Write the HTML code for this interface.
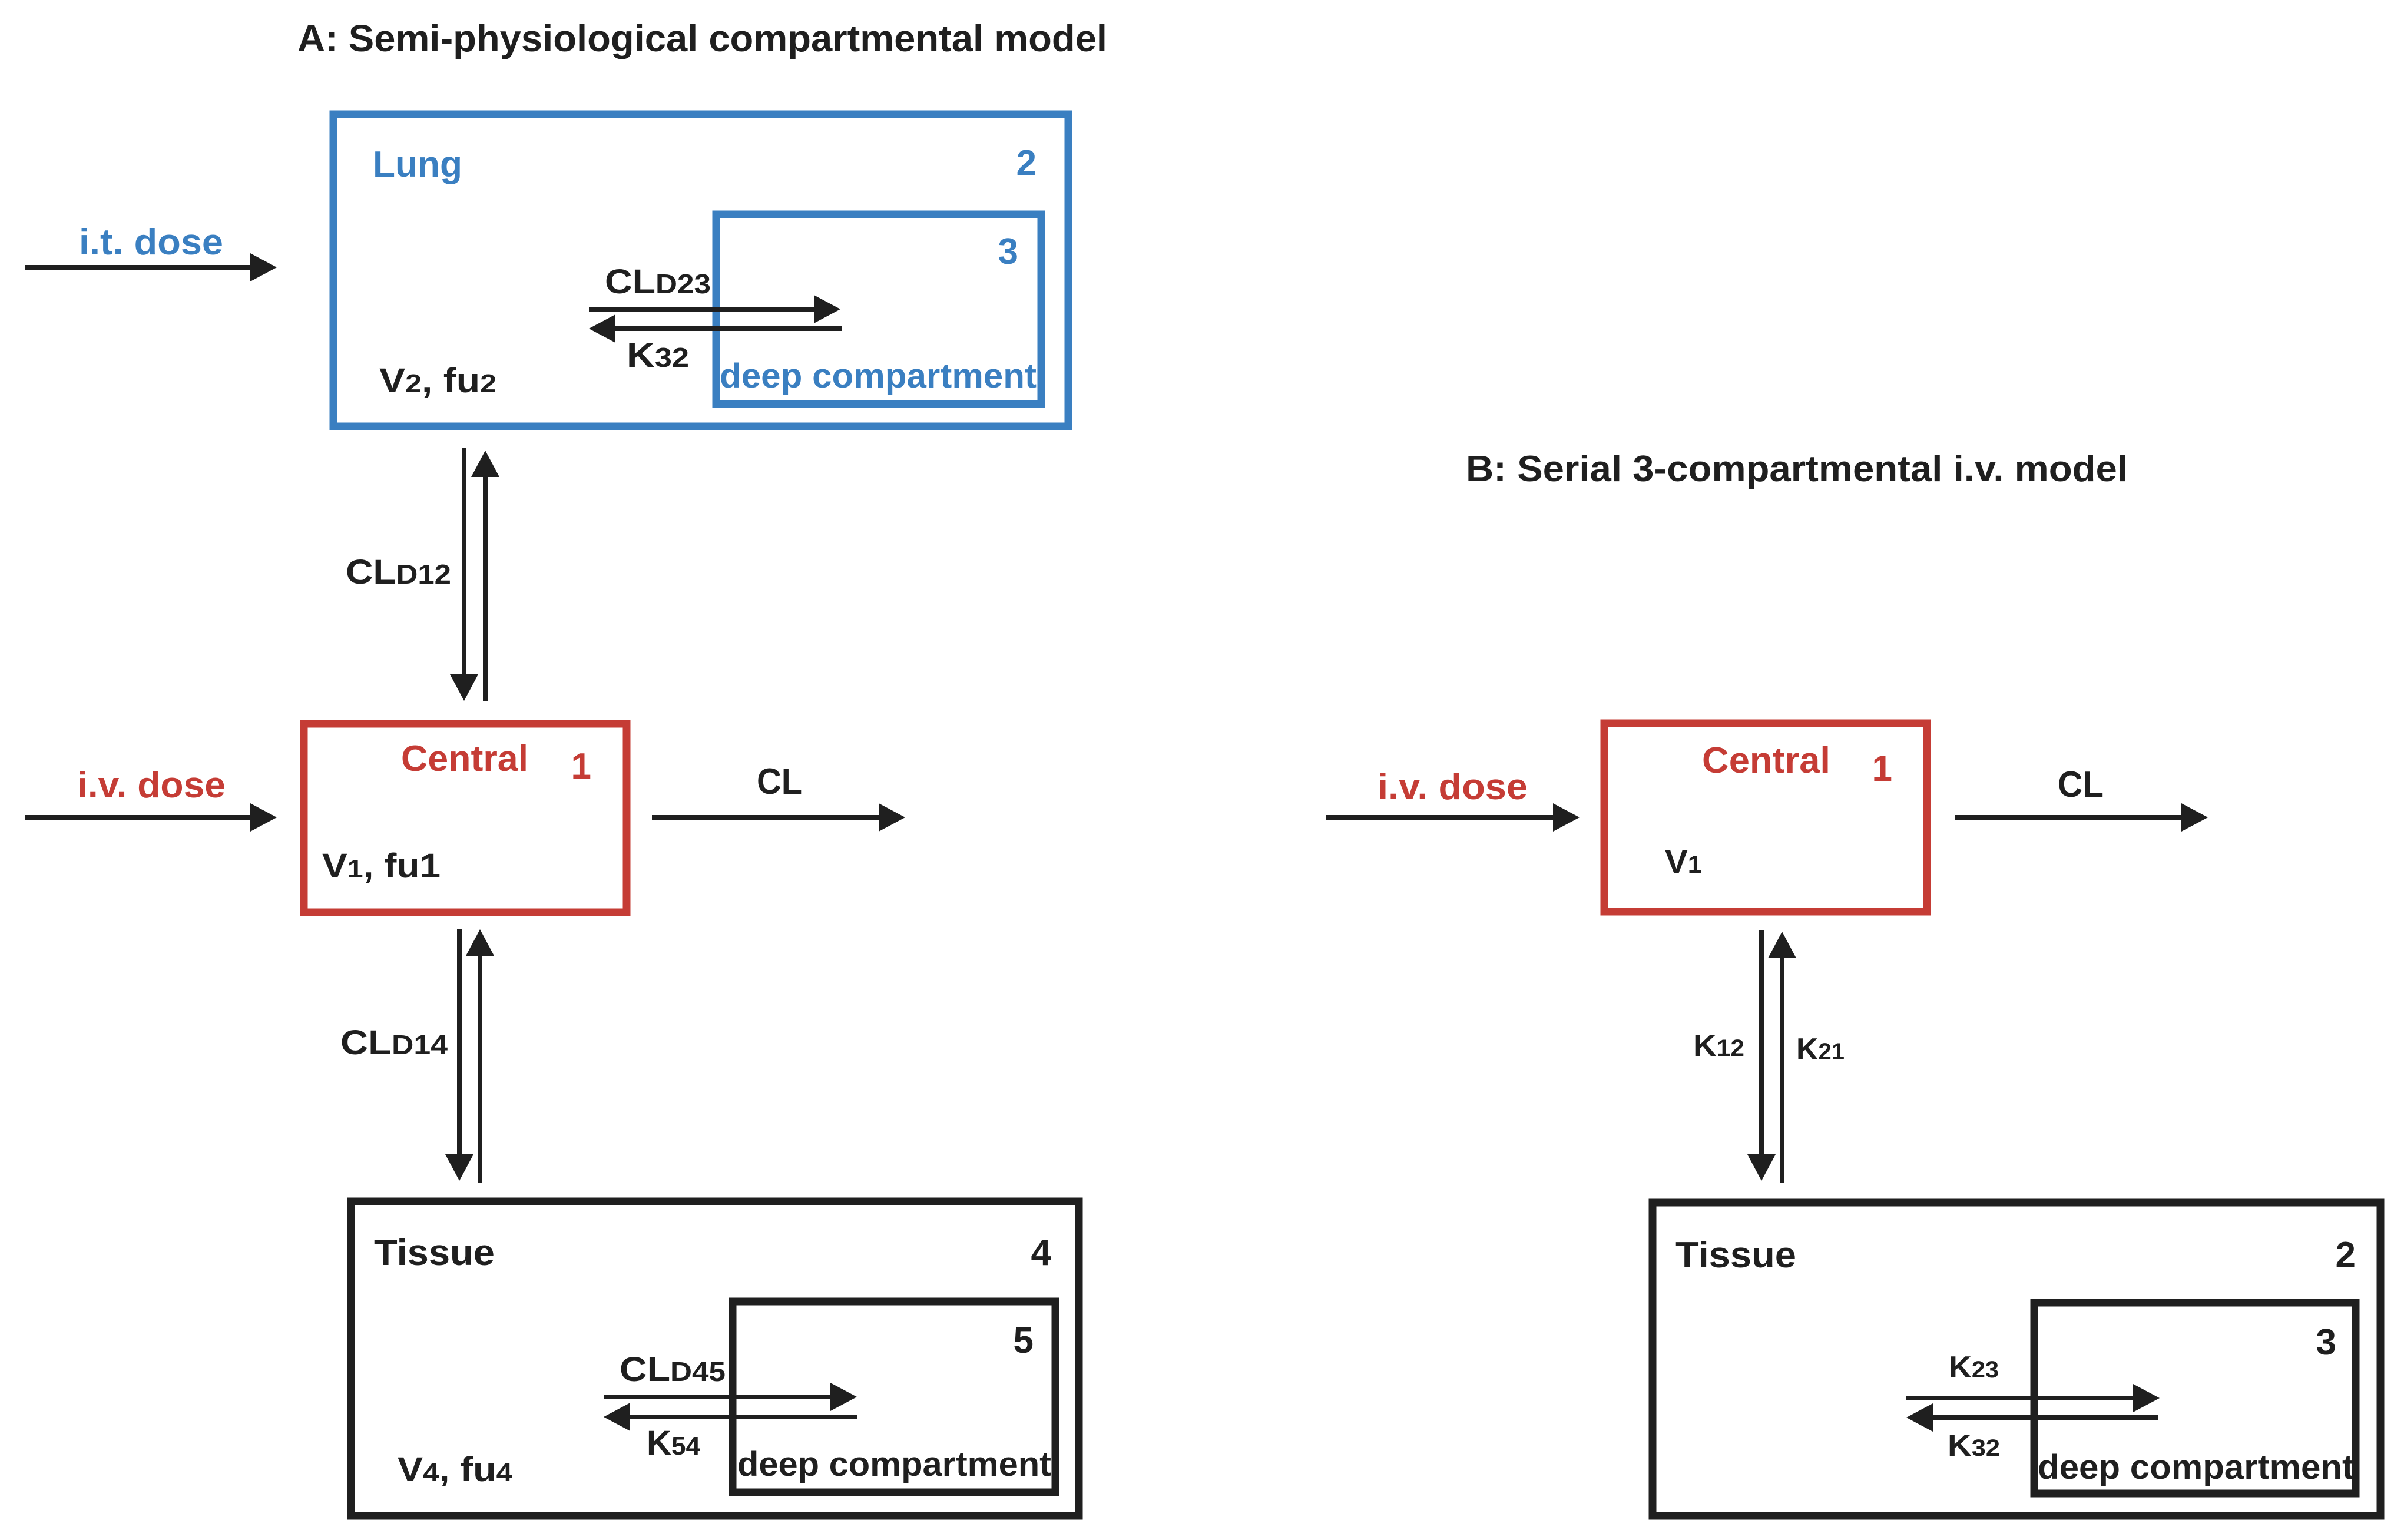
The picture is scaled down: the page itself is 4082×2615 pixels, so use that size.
<!DOCTYPE html>
<html><head><meta charset="utf-8"><style>
html,body{margin:0;padding:0;background:#fff;}
svg{display:block;}
text{font-family:"Liberation Sans",sans-serif;font-weight:bold;}
.b{fill:#3a7fc1}.r{fill:#c53c35}.k{fill:#1f1f1f}
</style></head><body>
<svg width="4082" height="2615" viewBox="0 0 4082 2615" xmlns="http://www.w3.org/2000/svg">
<g fill="none" stroke-width="13">
<rect x="566" y="194" width="1248" height="530" stroke="#3a7fc1"/>
<rect x="1216" y="364" width="552" height="322" stroke="#3a7fc1"/>
<rect x="516" y="1229" width="548" height="320" stroke="#c53c35"/>
<rect x="596" y="2040" width="1236" height="534" stroke="#1f1f1f"/>
<rect x="1244" y="2210" width="548" height="324" stroke="#1f1f1f"/>
<rect x="2724" y="1228" width="548" height="320" stroke="#c53c35"/>
<rect x="2806" y="2042" width="1236" height="532" stroke="#1f1f1f"/>
<rect x="3454" y="2212" width="546" height="324" stroke="#1f1f1f"/>
</g>
<g stroke="#1f1f1f" stroke-width="8" fill="none">
<!-- A arrows -->
<line x1="43" y1="454" x2="430" y2="454"/>
<line x1="1000" y1="525" x2="1390" y2="525"/>
<line x1="1040" y1="558" x2="1429" y2="558"/>
<line x1="788" y1="760" x2="788" y2="1150"/>
<line x1="824" y1="1190" x2="824" y2="805"/>
<line x1="43" y1="1388" x2="430" y2="1388"/>
<line x1="1107" y1="1388" x2="1497" y2="1388"/>
<line x1="780" y1="1578" x2="780" y2="1965"/>
<line x1="815" y1="2008" x2="815" y2="1620"/>
<line x1="1025" y1="2372" x2="1415" y2="2372"/>
<line x1="1065" y1="2406" x2="1456" y2="2406"/>
<!-- B arrows -->
<line x1="2251" y1="1388" x2="2642" y2="1388"/>
<line x1="3319" y1="1388" x2="3709" y2="1388"/>
<line x1="2991" y1="1580" x2="2991" y2="1965"/>
<line x1="3026" y1="2008" x2="3026" y2="1622"/>
<line x1="3237" y1="2374" x2="3627" y2="2374"/>
<line x1="3277" y1="2407" x2="3665" y2="2407"/>
</g>
<g fill="#1f1f1f">
<polygon points="425,430 470,454 425,478"/>
<polygon points="1382,501 1427,525 1382,549"/>
<polygon points="1045,534 1000,558 1045,582"/>
<polygon points="764,1145 788,1190 812,1145"/>
<polygon points="800,810 824,765 848,810"/>
<polygon points="425,1364 470,1388 425,1412"/>
<polygon points="1492,1364 1537,1388 1492,1412"/>
<polygon points="756,1960 780,2005 804,1960"/>
<polygon points="791,1623 815,1578 839,1623"/>
<polygon points="1410,2348 1455,2372 1410,2396"/>
<polygon points="1070,2382 1025,2406 1070,2430"/>
<polygon points="2637,1364 2682,1388 2637,1412"/>
<polygon points="3704,1364 3749,1388 3704,1412"/>
<polygon points="2967,1960 2991,2005 3015,1960"/>
<polygon points="3002,1627 3026,1582 3050,1627"/>
<polygon points="3622,2350 3667,2374 3622,2398"/>
<polygon points="3282,2383 3237,2407 3282,2431"/>
</g>
<!-- Panel A text -->
<text class="k" x="505" y="87" font-size="64" textLength="1375" lengthAdjust="spacingAndGlyphs">A: Semi-physiological compartmental model</text>
<text class="b" x="633" y="300" font-size="62" textLength="152" lengthAdjust="spacingAndGlyphs">Lung</text>
<text class="b" x="1760" y="298" font-size="62" text-anchor="end">2</text>
<text class="b" x="1729" y="448" font-size="62" text-anchor="end">3</text>
<text class="b" x="134" y="432" font-size="62" textLength="245" lengthAdjust="spacingAndGlyphs">i.t. dose</text>
<text class="k" x="1027" y="498" font-size="58" textLength="180" lengthAdjust="spacingAndGlyphs">CL<tspan font-size="46">D23</tspan></text>
<text class="k" x="1064" y="623" font-size="58" textLength="106" lengthAdjust="spacingAndGlyphs">K<tspan font-size="46">32</tspan></text>
<text class="b" x="1222" y="658" font-size="58" textLength="538" lengthAdjust="spacingAndGlyphs">deep compartment</text>
<text class="k" x="644" y="666" font-size="58" textLength="199" lengthAdjust="spacingAndGlyphs">V<tspan font-size="44">2</tspan>, fu<tspan font-size="44">2</tspan></text>
<text class="k" x="587" y="991" font-size="58" textLength="179" lengthAdjust="spacingAndGlyphs">CL<tspan font-size="46">D12</tspan></text>
<text class="r" x="681" y="1309" font-size="62" textLength="216" lengthAdjust="spacingAndGlyphs">Central</text>
<text class="r" x="1004" y="1322" font-size="62" text-anchor="end">1</text>
<text class="r" x="131" y="1354" font-size="62" textLength="252" lengthAdjust="spacingAndGlyphs">i.v. dose</text>
<text class="k" x="547" y="1490" font-size="58" textLength="201" lengthAdjust="spacingAndGlyphs">V<tspan font-size="44">1</tspan>, fu1</text>
<text class="k" x="1285" y="1348" font-size="62" textLength="77" lengthAdjust="spacingAndGlyphs">CL</text>
<text class="k" x="578" y="1790" font-size="58" textLength="182" lengthAdjust="spacingAndGlyphs">CL<tspan font-size="46">D14</tspan></text>
<text class="k" x="635" y="2148" font-size="62" textLength="205" lengthAdjust="spacingAndGlyphs">Tissue</text>
<text class="k" x="1785" y="2148" font-size="62" text-anchor="end">4</text>
<text class="k" x="1755" y="2297" font-size="62" text-anchor="end">5</text>
<text class="k" x="1052" y="2345" font-size="58" textLength="180" lengthAdjust="spacingAndGlyphs">CL<tspan font-size="46">D45</tspan></text>
<text class="k" x="1098" y="2470" font-size="58" textLength="91" lengthAdjust="spacingAndGlyphs">K<tspan font-size="44">54</tspan></text>
<text class="k" x="1252" y="2506" font-size="58" textLength="533" lengthAdjust="spacingAndGlyphs">deep compartment</text>
<text class="k" x="675" y="2515" font-size="58" textLength="195" lengthAdjust="spacingAndGlyphs">V<tspan font-size="44">4</tspan>, fu<tspan font-size="44">4</tspan></text>
<!-- Panel B text -->
<text class="k" x="2489" y="817" font-size="62" textLength="1124" lengthAdjust="spacingAndGlyphs">B: Serial 3-compartmental i.v. model</text>
<text class="r" x="2890" y="1312" font-size="62" textLength="218" lengthAdjust="spacingAndGlyphs">Central</text>
<text class="r" x="3213" y="1326" font-size="62" text-anchor="end">1</text>
<text class="r" x="2339" y="1357" font-size="62" textLength="255" lengthAdjust="spacingAndGlyphs">i.v. dose</text>
<text class="k" x="3494" y="1353" font-size="62" textLength="78" lengthAdjust="spacingAndGlyphs">CL</text>
<text class="k" x="2827" y="1482" font-size="56" textLength="63" lengthAdjust="spacingAndGlyphs">V<tspan font-size="42">1</tspan></text>
<text class="k" x="2875" y="1793" font-size="52" textLength="87" lengthAdjust="spacingAndGlyphs">K<tspan font-size="40">12</tspan></text>
<text class="k" x="3050" y="1799" font-size="52" textLength="82" lengthAdjust="spacingAndGlyphs">K<tspan font-size="40">21</tspan></text>
<text class="k" x="2845" y="2152" font-size="62" textLength="205" lengthAdjust="spacingAndGlyphs">Tissue</text>
<text class="k" x="4000" y="2152" font-size="62" text-anchor="end">2</text>
<text class="k" x="3967" y="2300" font-size="62" text-anchor="end">3</text>
<text class="k" x="3309" y="2339" font-size="52" textLength="85" lengthAdjust="spacingAndGlyphs">K<tspan font-size="40">23</tspan></text>
<text class="k" x="3307" y="2472" font-size="52" textLength="89" lengthAdjust="spacingAndGlyphs">K<tspan font-size="40">32</tspan></text>
<text class="k" x="3460" y="2511" font-size="58" textLength="537" lengthAdjust="spacingAndGlyphs">deep compartment</text>
</svg>
</body></html>
